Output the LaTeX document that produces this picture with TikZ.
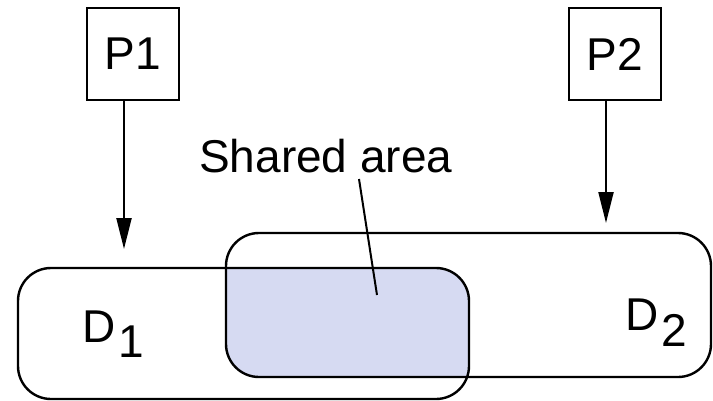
\documentclass[tikz,border=0pt]{standalone}
\usepackage{fontspec}
\setmainfont{Liberation Sans}
\usetikzlibrary{arrows.meta}
\definecolor{sharedblue}{HTML}{D6DAF2}
\begin{document}
\begin{tikzpicture}[x=1pt,y=-1pt,
  every node/.style={font=\fontsize{46}{50}\selectfont},
  pbox/.style={draw,line width=2.4pt,minimum width=92pt,minimum height=92pt,inner sep=0pt},
  dom/.style={draw,line width=2.4pt,rounded corners=33pt,inner sep=0pt},
  lbl/.style={inner sep=0pt,anchor=base west},
  arr/.style={line width=2.2pt,-{Triangle[length=31pt,width=15pt]}},
  lead/.style={line width=2pt}]
\useasboundingbox (0,0) rectangle (713,400);
% shared area fill
\begin{scope}
  \clip[rounded corners=33pt] (18,268) rectangle (469,399);
  \fill[sharedblue,rounded corners=33pt] (226,233) rectangle (711,377);
\end{scope}
\node[pbox] (P1) at (133,54) {P1};
\node[pbox] (P2) at (615,54) {P2};
\node[dom,minimum width=451pt,minimum height=131pt] (D1) at (243.5,333.5) {};
\node[dom,minimum width=485pt,minimum height=144pt] (D2) at (468.5,305) {};
\node[lbl] (d1l) at (82,342) {D\hspace{3pt}\raisebox{-15pt}{1}};
\node[lbl] (d2l) at (625,330) {D\hspace{3pt}\raisebox{-16pt}{2}};
\node[lbl] (sa) at (199,172) {Shared area};
\coordinate (t1) at (124,249);
\coordinate (t2) at (606,223);
\coordinate (ls) at (359,179);
\coordinate (le) at (377,295);
\draw[arr] ([xshift=-9pt]P1.south) -- (t1);
\draw[arr] ([xshift=-9pt]P2.south) -- (t2);
\draw[lead] (ls) -- (le);
\end{tikzpicture}
\end{document}
